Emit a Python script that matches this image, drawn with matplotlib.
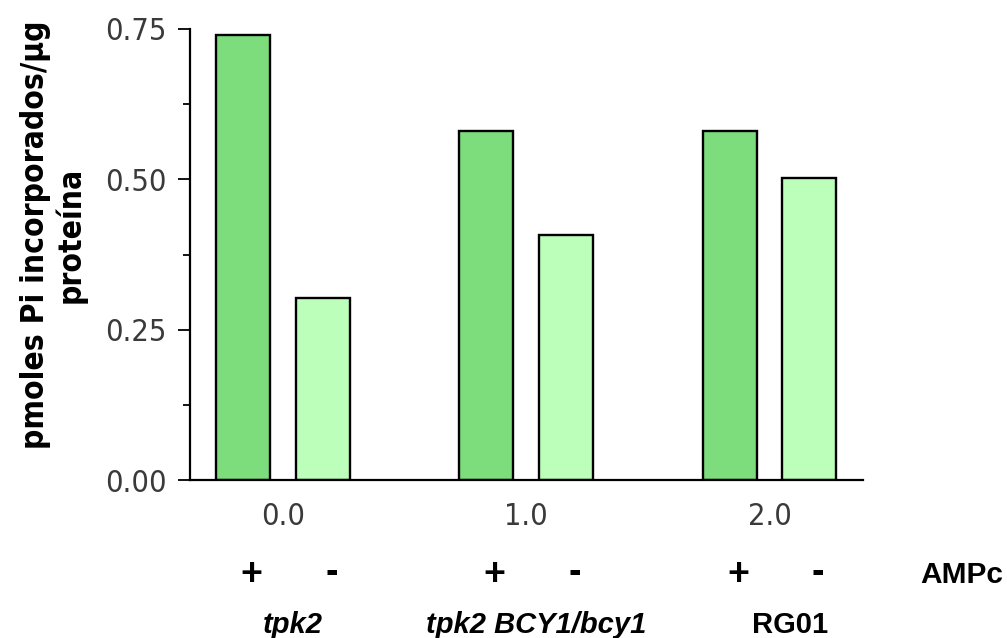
import numpy as np
import matplotlib
matplotlib.use("Agg")
import matplotlib.pyplot as plt
from matplotlib import font_manager
from matplotlib.ticker import MultipleLocator, FixedLocator

# Data
group_pos = [0.0, 1.0, 2.0]
tick_text = ["0.0", "1.0", "2.0"]
strains = ["tpk2", "tpk2 BCY1/bcy1", "RG01"]
strain_italic = [True, True, False]
with_camp = [0.740, 0.580, 0.580]
without_camp = [0.303, 0.407, 0.502]

dark_green = "#7ddc7c"
light_green = "#bbffbb"

# pick a narrow face for the axis text if we have one
names = {f.name for f in font_manager.fontManager.ttflist}
narrow = "Liberation Sans Narrow" if "Liberation Sans Narrow" in names else "DejaVu Sans"
wide = "Liberation Sans" if "Liberation Sans" in names else "DejaVu Sans"

fig = plt.figure(figsize=(10.07, 6.38), dpi=100)
ax = fig.add_axes([190 / 1007, 158 / 638, 673 / 1007, 451 / 638])

x = np.array(group_pos)
offset = 0.164
width = 0.222
ax.bar(x - offset, with_camp, width, color=dark_green, edgecolor="black", linewidth=1.7)
ax.bar(x + offset, without_camp, width, color=light_green, edgecolor="black", linewidth=1.7)

ax.set_xlim(-0.382, 2.384)
ax.set_ylim(0, 0.75)

for side in ("top", "right"):
    ax.spines[side].set_visible(False)
for side in ("left", "bottom"):
    ax.spines[side].set_linewidth(1.6)

ax.yaxis.set_major_locator(MultipleLocator(0.25))
ax.yaxis.set_minor_locator(MultipleLocator(0.125))
ax.yaxis.set_major_formatter(matplotlib.ticker.FormatStrFormatter("%.2f"))
ax.tick_params(axis="y", which="major", length=8.6, width=1.3, pad=8, direction="out")
ax.tick_params(axis="y", which="minor", length=5, width=1.3, direction="out")

ax.xaxis.set_major_locator(FixedLocator(group_pos))
ax.set_xticklabels(tick_text)
ax.tick_params(axis="x", length=0, pad=16)

for lab in ax.get_xticklabels() + ax.get_yticklabels():
    lab.set_fontfamily(narrow)
    lab.set_fontstretch("condensed")
    lab.set_fontsize(22)
    lab.set_color("#3a3a3a")

fig.text(53 / 1007, (638 - 235) / 638, "pmoles Pi incorporados/µg\nproteína",
         rotation=90, ha="center", va="center", multialignment="center",
         fontsize=22.8, fontweight="bold", fontstretch="condensed",
         family=narrow, linespacing=1.12)

# cAMP +/- row and strain names under the axis
trans = ax.get_xaxis_transform()
for g, name, ital in zip(group_pos, strains, strain_italic):
    ax.text(g - 0.13, -0.211, "+", transform=trans, ha="center", va="center",
            fontsize=27, fontweight="bold", family=wide, clip_on=False)
    ax.text(g + 0.2, -0.206, "-", transform=trans, ha="center", va="center",
            fontsize=27, fontweight="bold", family=wide, clip_on=False)
    ax.text(g + 0.04 if ital else g + 0.084, -0.339, name, transform=trans,
            ha="center", va="baseline", fontsize=21, fontweight="bold",
            style="italic" if ital else "normal", family=wide, clip_on=False)
ax.text(2.79, -0.211, "AMPc", transform=trans, ha="center", va="center",
        fontsize=21.5, fontweight="bold", family=wide, clip_on=False)

fig.savefig("out.png", dpi=100)
